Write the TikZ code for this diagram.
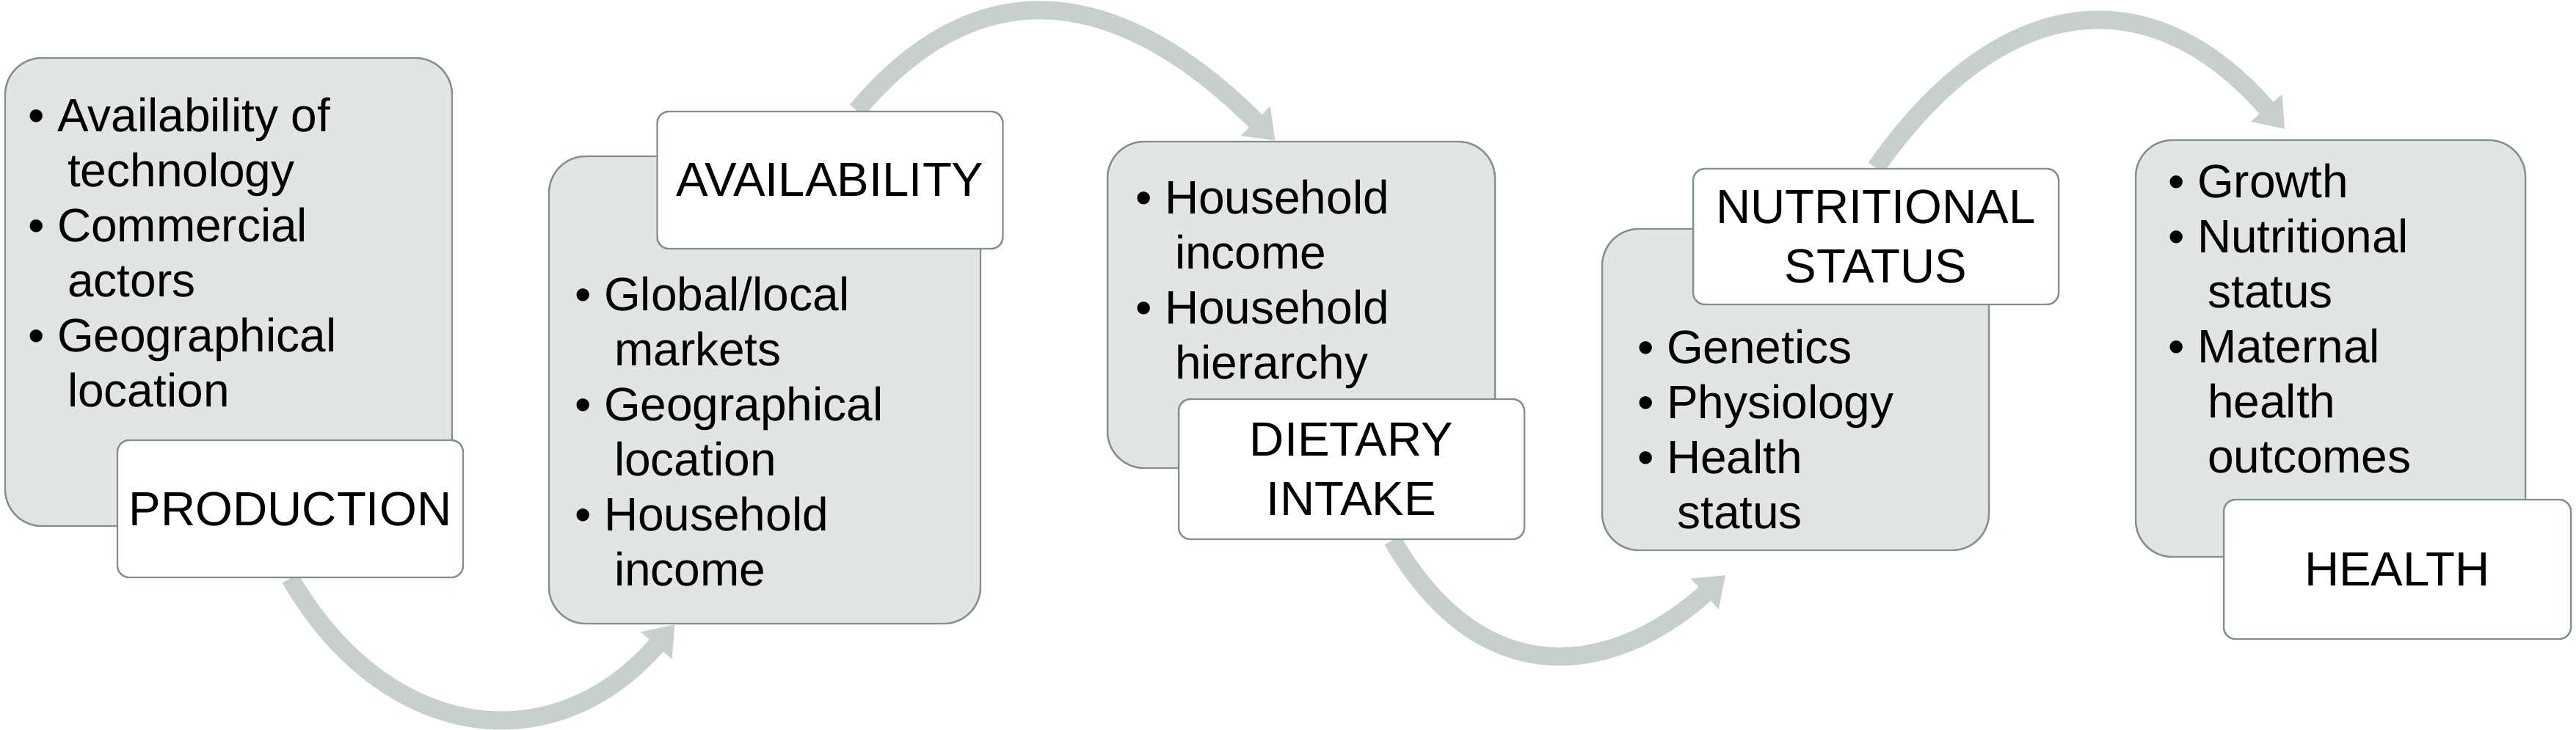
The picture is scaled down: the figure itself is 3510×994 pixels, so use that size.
\documentclass[tikz,border=0pt]{standalone}
\usepackage{fontspec}
\setmainfont{Liberation Sans}
\usetikzlibrary{positioning, arrows.meta, backgrounds}
\definecolor{boxfill}{HTML}{E2E5E4}
\definecolor{boxline}{HTML}{83908D}
\definecolor{arrowgray}{HTML}{C8D0CD}
\newcommand\bitem{\makebox[0.62em][l]{\textbullet}}
\newcommand\bcont{\hspace*{0.84em}}

\begin{document}
\begin{tikzpicture}[
            x=0.1mm, y=0.1mm,
            font=\fontsize{18.2}{21.3}\selectfont,
            graybox/.style={rectangle, draw=boxline, line width=0.7pt, fill=boxfill, rounded corners=5mm, inner sep=0pt},
            tagbox/.style={rectangle, draw=boxline, line width=0.7pt, fill=white, rounded corners=1.6mm, align=center, inner sep=0pt,
                minimum width=47.1mm, minimum height=18.7mm, font=\fontsize{18.6}{22.8}\selectfont},
            listtext/.style={align=left, inner sep=0pt},
            flow/.style={draw=arrowgray, line width=2.5mm, -{Triangle[length=3.8mm, width=5.4mm]}, looseness=1.24}
        ]
        \useasboundingbox (0,0) rectangle (3510,994);

        % Grey boxes with the factors
        \node[graybox, minimum width=60.9mm, minimum height=63.8mm] (prodbox) at (311.5,596) {};
        \node[graybox, minimum width=58.8mm, minimum height=63.7mm] (availbox) at (1042,462.5) {};
        \node[graybox, minimum width=52.8mm, minimum height=44.5mm] (dietbox) at (1773,578.5) {};
        \node[graybox, minimum width=52.7mm, minimum height=43.8mm] (nutrbox) at (2446.5,463) {};
        \node[graybox, minimum width=53.1mm, minimum height=56.8mm] (healthbox) at (3175.5,519) {};

        % Bullet lists
        \node[listtext, below right=5.5mm and 3.2mm of prodbox.north west] (prodlist)
            {\bitem Availability of\\ \bcont technology\\ \bitem Commercial\\ \bcont actors\\ \bitem Geographical\\ \bcont location};
        \node[listtext, below right=16.5mm and 3.6mm of availbox.north west] (availlist)
            {\bitem Global/local\\ \bcont markets\\ \bitem Geographical\\ \bcont location\\ \bitem Household\\ \bcont income};
        \node[listtext, below right=5.3mm and 3.9mm of dietbox.north west] (dietlist)
            {\bitem Household\\ \bcont income\\ \bitem Household\\ \bcont hierarchy};
        \node[listtext, below right=13.8mm and 4.9mm of nutrbox.north west] (nutrlist)
            {\bitem Genetics\\ \bitem Physiology\\ \bitem Health\\ \bcont status};
        \node[listtext, below right=3.3mm and 4.5mm of healthbox.north west] (healthlist)
            {\bitem Growth\\ \bitem Nutritional\\ \bcont status\\ \bitem Maternal\\ \bcont health\\ \bcont outcomes};

        % Stage labels
        \node[tagbox] (prod) at (395.5,300.5) {PRODUCTION};
        \node[tagbox] (avail) at (1131,748.5) {AVAILABILITY};
        \node[tagbox, minimum height=19.1mm] (diet) at (1841.5,354.5) {DIETARY\\INTAKE};
        \node[tagbox, minimum width=49.8mm, minimum height=18.5mm] (nutr) at (2556,671.5) {NUTRITIONAL\\STATUS};
        \node[tagbox, minimum width=47.3mm, minimum height=19mm] (health) at (3266.5,218) {HEALTH};

        % Curved arrows between the stages
        \begin{scope}[on background layer]
            \draw[flow] (prod.south) to[out=-60, in=229] (availbox.249);
            \draw[flow] (avail.69) to[out=50, in=135] (dietbox.99);
            \draw[flow, shorten >=4.9mm, looseness=1.3] (diet.-60) to[out=-60, in=222] (nutrbox.255);
            \draw[flow, shorten >=1.85mm, looseness=1.33] (nutr.north) to[out=55, in=131] (healthbox.100);
        \end{scope}
    \end{tikzpicture}
\end{document}
